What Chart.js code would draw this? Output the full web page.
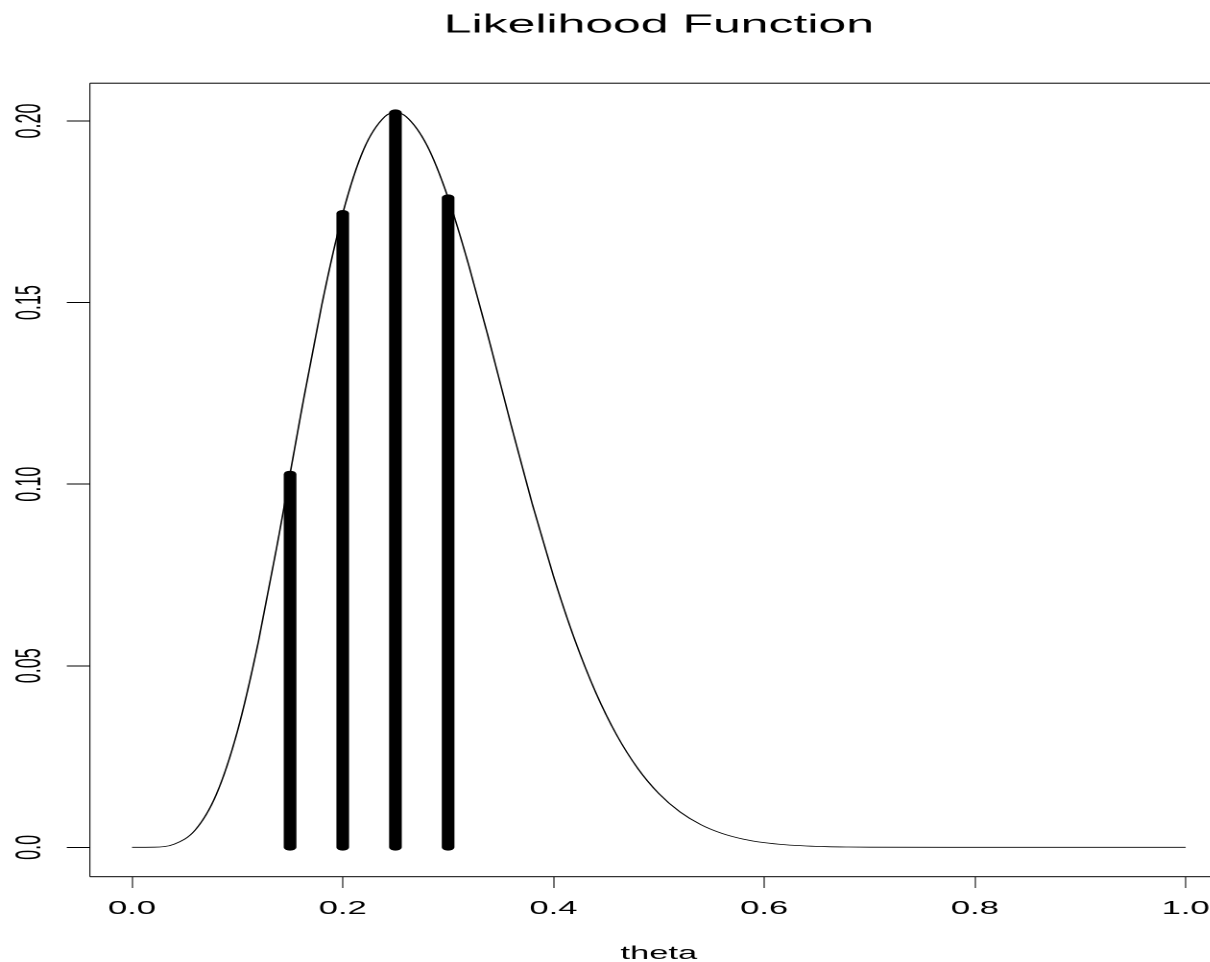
<!DOCTYPE html>
<html>
<head>
<meta charset="utf-8">
<title>Likelihood Function</title>
<script src="https://cdn.jsdelivr.net/npm/chart.js@4.4.1/dist/chart.umd.min.js"></script>
<style>
  html, body { margin: 0; padding: 0; background: #fff; overflow: hidden; width: 1210px; height: 962px; }
  /* the reference is stretched horizontally, so draw narrow and stretch the canvas */
  #wrap { width: 660px; height: 962px; transform: scaleX(1.92); transform-origin: 0 0; }
</style>
</head>
<body>
<div id="wrap"><canvas id="chart"></canvas></div>
<script>
const thetaGrid = [0, 0.02, 0.04, 0.06, 0.08, 0.10, 0.12, 0.14, 0.16, 0.18, 0.20, 0.22, 0.24, 0.25, 0.26, 0.28,
  0.30, 0.32, 0.34, 0.36, 0.38, 0.40, 0.42, 0.44, 0.46, 0.48, 0.50, 0.52, 0.54, 0.56, 0.58, 0.60,
  0.62, 0.64, 0.66, 0.68, 0.70, 0.80, 0.90, 1.00];
const likelihood = [0, 0.0000366, 0.000861, 0.00477, 0.01455, 0.03192, 0.05670, 0.08680, 0.11890, 0.14923,
  0.17456, 0.19227, 0.20123, 0.20233, 0.20125, 0.19326, 0.17886, 0.15987, 0.13842, 0.11605, 0.09443,
  0.07465, 0.05731, 0.04270, 0.03091, 0.02172, 0.01479, 0.00975, 0.00622, 0.00383, 0.00227, 0.00129,
  0.00071, 0.00037, 0.00018, 0.00009, 0.00004, 0, 0, 0];

const sampleTheta = [0.15, 0.20, 0.25, 0.30];
const sampleLik = [0.1028, 0.1746, 0.2023, 0.1789];

const xTicks = [0, 0.2, 0.4, 0.6, 0.8, 1.0];
const xTickLabels = ["0.0", "0.2", "0.4", "0.6", "0.8", "1.0"];
const yTicks = [0, 0.05, 0.10, 0.15, 0.20];
const yTickLabels = ["0.0", "0.05", "0.10", "0.15", "0.20"];

const FONT = "'Liberation Sans', Arial, Helvetica, sans-serif";

// R style box around the plot region, plus rotated y tick labels
const rFrame = {
    id: "rFrame",
    beforeDatasetsDraw(chart) {
        const { ctx, chartArea: a } = chart;
        ctx.save();
        ctx.fillStyle = "#000";
        ctx.fillRect(a.left, a.top - 0.5, a.right - a.left, 1);
        ctx.fillRect(a.left, a.bottom - 0.5, a.right - a.left, 1);
        ctx.fillRect(a.left - 0.28, a.top, 0.56, a.bottom - a.top);
        ctx.fillRect(a.right - 0.28, a.top, 0.56, a.bottom - a.top);
        ctx.restore();
    },
    afterDraw(chart) {
        const { ctx } = chart;
        const y = chart.scales.y;
        ctx.save();
        ctx.fillStyle = "#000";
        ctx.font = "18px " + FONT;
        ctx.textAlign = "center";
        ctx.textBaseline = "middle";
        yTicks.forEach((v, i) => {
            ctx.save();
            ctx.translate(16.2, y.getPixelForValue(v));
            ctx.rotate(-Math.PI / 2);
            ctx.fillText(yTickLabels[i], 0, 0);
            ctx.restore();
        });
        ctx.restore();
    },
};

const datasets = [
    {
        data: thetaGrid.map((x, i) => ({ x, y: likelihood[i] })),
        borderColor: "#000",
        borderWidth: 0.8,
        pointRadius: 0,
        cubicInterpolationMode: "monotone",
    },
    ...sampleTheta.map((x, i) => ({
        data: [{ x, y: 0 }, { x, y: sampleLik[i] }],
        borderColor: "#000",
        borderWidth: 6.6,
        borderCapStyle: "round",
        pointRadius: 0,
    })),
];

new Chart(document.getElementById("chart"), {
    type: "line",
    data: { datasets },
    plugins: [rFrame],
    options: {
        responsive: true,
        maintainAspectRatio: false,
        devicePixelRatio: 2,
        animation: false,
        layout: { padding: { left: 0, right: 20.5, top: 0, bottom: 0 } },
        plugins: {
            legend: { display: false },
            tooltip: { enabled: false },
            title: {
                display: true,
                fullSize: false,
                text: "Likelihood Function",
                color: "#000",
                font: { family: FONT, size: 26, weight: "normal", lineHeight: 1.2 },
                padding: { top: 9.7, bottom: 42.3 },
            },
        },
        scales: {
            x: {
                type: "linear",
                min: -0.04,
                max: 1.04,
                afterBuildTicks: (s) => { s.ticks = xTicks.map((value) => ({ value })); },
                afterFit: (s) => { s.height = 85.3; },
                border: { display: false },
                grid: { drawOnChartArea: false, drawTicks: true, tickLength: 11.3, tickColor: "#000", tickWidth: 0.55 },
                ticks: {
                    color: "#000",
                    font: { family: FONT, size: 18 },
                    padding: 10,
                    maxRotation: 0,
                    callback: (v, i) => xTickLabels[i],
                },
                title: {
                    display: true,
                    text: "theta",
                    color: "#000",
                    font: { family: FONT, size: 18, lineHeight: 0.9 },
                    padding: 0,
                },
            },
            y: {
                type: "linear",
                min: -0.00809,
                max: 0.21042,
                afterBuildTicks: (s) => { s.ticks = yTicks.map((value) => ({ value })); },
                afterFit: (s) => { s.width = 46.8; },
                border: { display: false },
                grid: { drawOnChartArea: false, drawTicks: true, tickLength: 12, tickColor: "#000", tickWidth: 1 },
                ticks: { display: false },
            },
        },
    },
});
</script>
</body>
</html>
